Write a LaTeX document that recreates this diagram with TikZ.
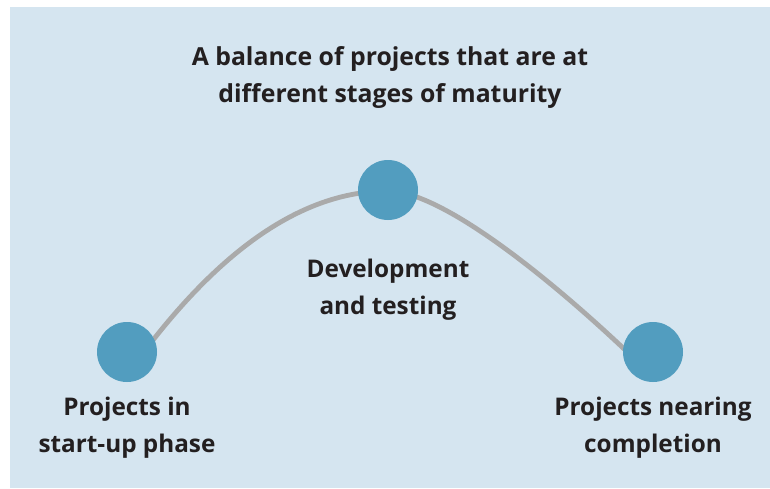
\documentclass[tikz,border=0pt]{standalone}
\usepackage{fontspec}
\setmainfont{Open Sans}
\definecolor{bgblue}{HTML}{D5E5F0}
\definecolor{dotblue}{HTML}{529DBF}
\definecolor{curvegray}{HTML}{AAAAAA}
\definecolor{inkdark}{HTML}{231F20}
\begin{document}
\begin{tikzpicture}[x=1pt,y=-1pt,
  stage/.style={circle,fill=dotblue,minimum size=60pt,inner sep=0pt},
  lbl/.style={align=center,text=inkdark,font=\fontsize{24.3}{37}\selectfont\bfseries,inner sep=0pt,anchor=base},
  arc/.style={draw=curvegray,line width=4.8pt}]
\useasboundingbox (0,0) rectangle (770,488);
\fill[bgblue] (10,7) rectangle (770,488);
\coordinate (lstart) at (127,375);
\coordinate (rend) at (653,377);
\draw[arc] (lstart) .. controls (214,252) and (301,191) .. (388,191)
  .. controls (450,191) and (583,307) .. (rend);
\node[stage] (left) at (127,352) {};
\node[stage] (top) at (388,190) {};
\node[stage] (right) at (653,352) {};
\node[lbl,font=\fontsize{24.8}{37}\selectfont\bfseries] (title) at (390,102) {A balance of projects that are at\\different stages of maturity};
\node[lbl] (ltext) at (127,452) {Projects in\\start-up phase};
\node[lbl] (mtext) at (388,314) {Development\\and testing};
\node[lbl] (rtext) at (653,452) {Projects nearing\\completion};
\end{tikzpicture}
\end{document}
